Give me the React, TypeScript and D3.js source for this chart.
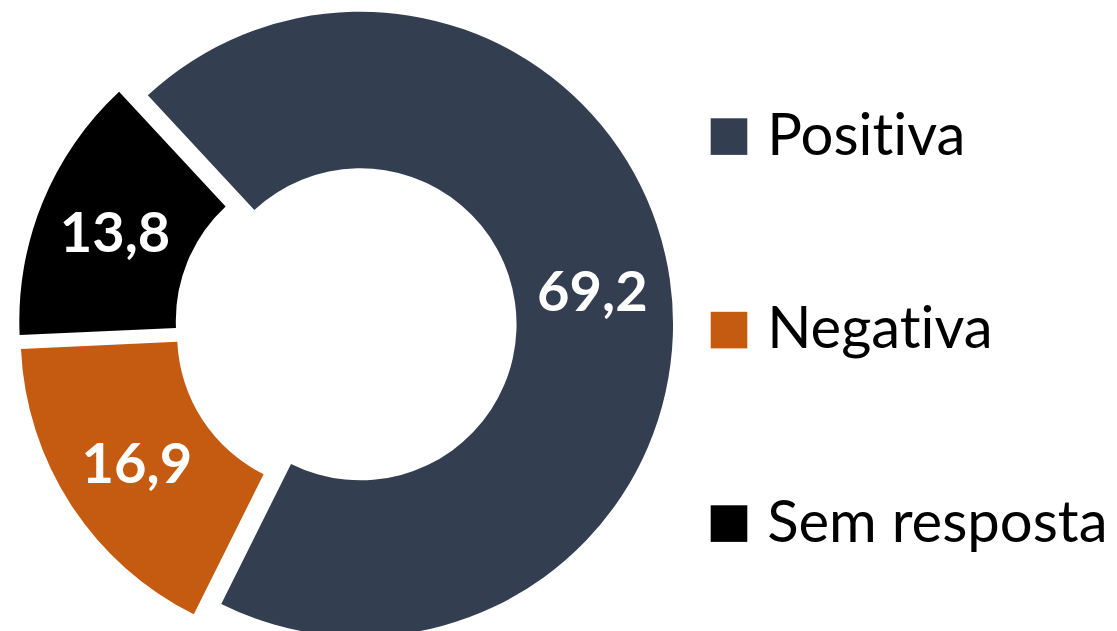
import { arc, formatLocale, pie } from 'd3';
import type { PieArcDatum } from 'd3';

const categories = ['Positiva', 'Negativa', 'Sem resposta'];
const values = [69.2, 16.9, 13.8];
const colors = ['#333F50', '#C55A11', '#000000'];

const width = 1117;
const height = 631;
const center = { x: 345.7, y: 326.4 };
const outerRadius = 312.5;
const innerRadius = 156;
const explode = 15;
const firstSliceAngle = (-42.9 * Math.PI) / 180;

const ptBR = formatLocale({ decimal: ',', thousands: '.', grouping: [3], currency: ['R$', ''] });
const formatValue = ptBR.format('.1f');

type Slice = { label: string; value: number; color: string };

const slices: Slice[] = categories.map((label, i) => ({ label, value: values[i], color: colors[i] }));

export default function App() {
  const arcs = pie<Slice>()
    .sort(null)
    .value(d => d.value)
    .startAngle(firstSliceAngle)
    .endAngle(firstSliceAngle + Math.PI * 2)(slices);

  const arcPath = arc<PieArcDatum<Slice>>().innerRadius(innerRadius).outerRadius(outerRadius);

  const legendTop = 118.3;
  const legendStep = 193.5;
  const swatch = 36.6;

  return (
    <svg
      width={width}
      height={height}
      viewBox={`0 0 ${width} ${height}`}
      style={{ position: 'absolute', left: 0, top: 0, background: '#ffffff' }}
    >
      <g transform={`translate(${center.x},${center.y})`}>
        {arcs.map(d => {
          const mid = (d.startAngle + d.endAngle) / 2;
          const dx = explode * Math.sin(mid);
          const dy = -explode * Math.cos(mid);
          const [cx, cy] = arcPath.centroid(d);
          return (
            <g key={d.data.label} transform={`translate(${dx},${dy})`}>
              <path d={arcPath(d) ?? ''} fill={d.data.color} />
              <text
                x={cx}
                y={cy}
                dy="0.36em"
                textAnchor="middle"
                fill="#ffffff"
                style={{ fontFamily: 'Lato, sans-serif', fontWeight: 700, fontSize: 56 }}
              >
                {formatValue(d.data.value)}
              </text>
            </g>
          );
        })}
      </g>

      <g transform="translate(710.7,0)">
        {slices.map((s, i) => {
          const y = legendTop + i * legendStep;
          return (
            <g key={s.label}>
              <rect x={0} y={y} width={swatch} height={swatch} fill={s.color} />
              <text
                x={56.5}
                y={y + swatch}
                fill="#000000"
                style={{ fontFamily: 'Lato, sans-serif', fontSize: 58, fontVariantLigatures: 'none' }}
              >
                {s.label}
              </text>
            </g>
          );
        })}
      </g>
    </svg>
  );
}
